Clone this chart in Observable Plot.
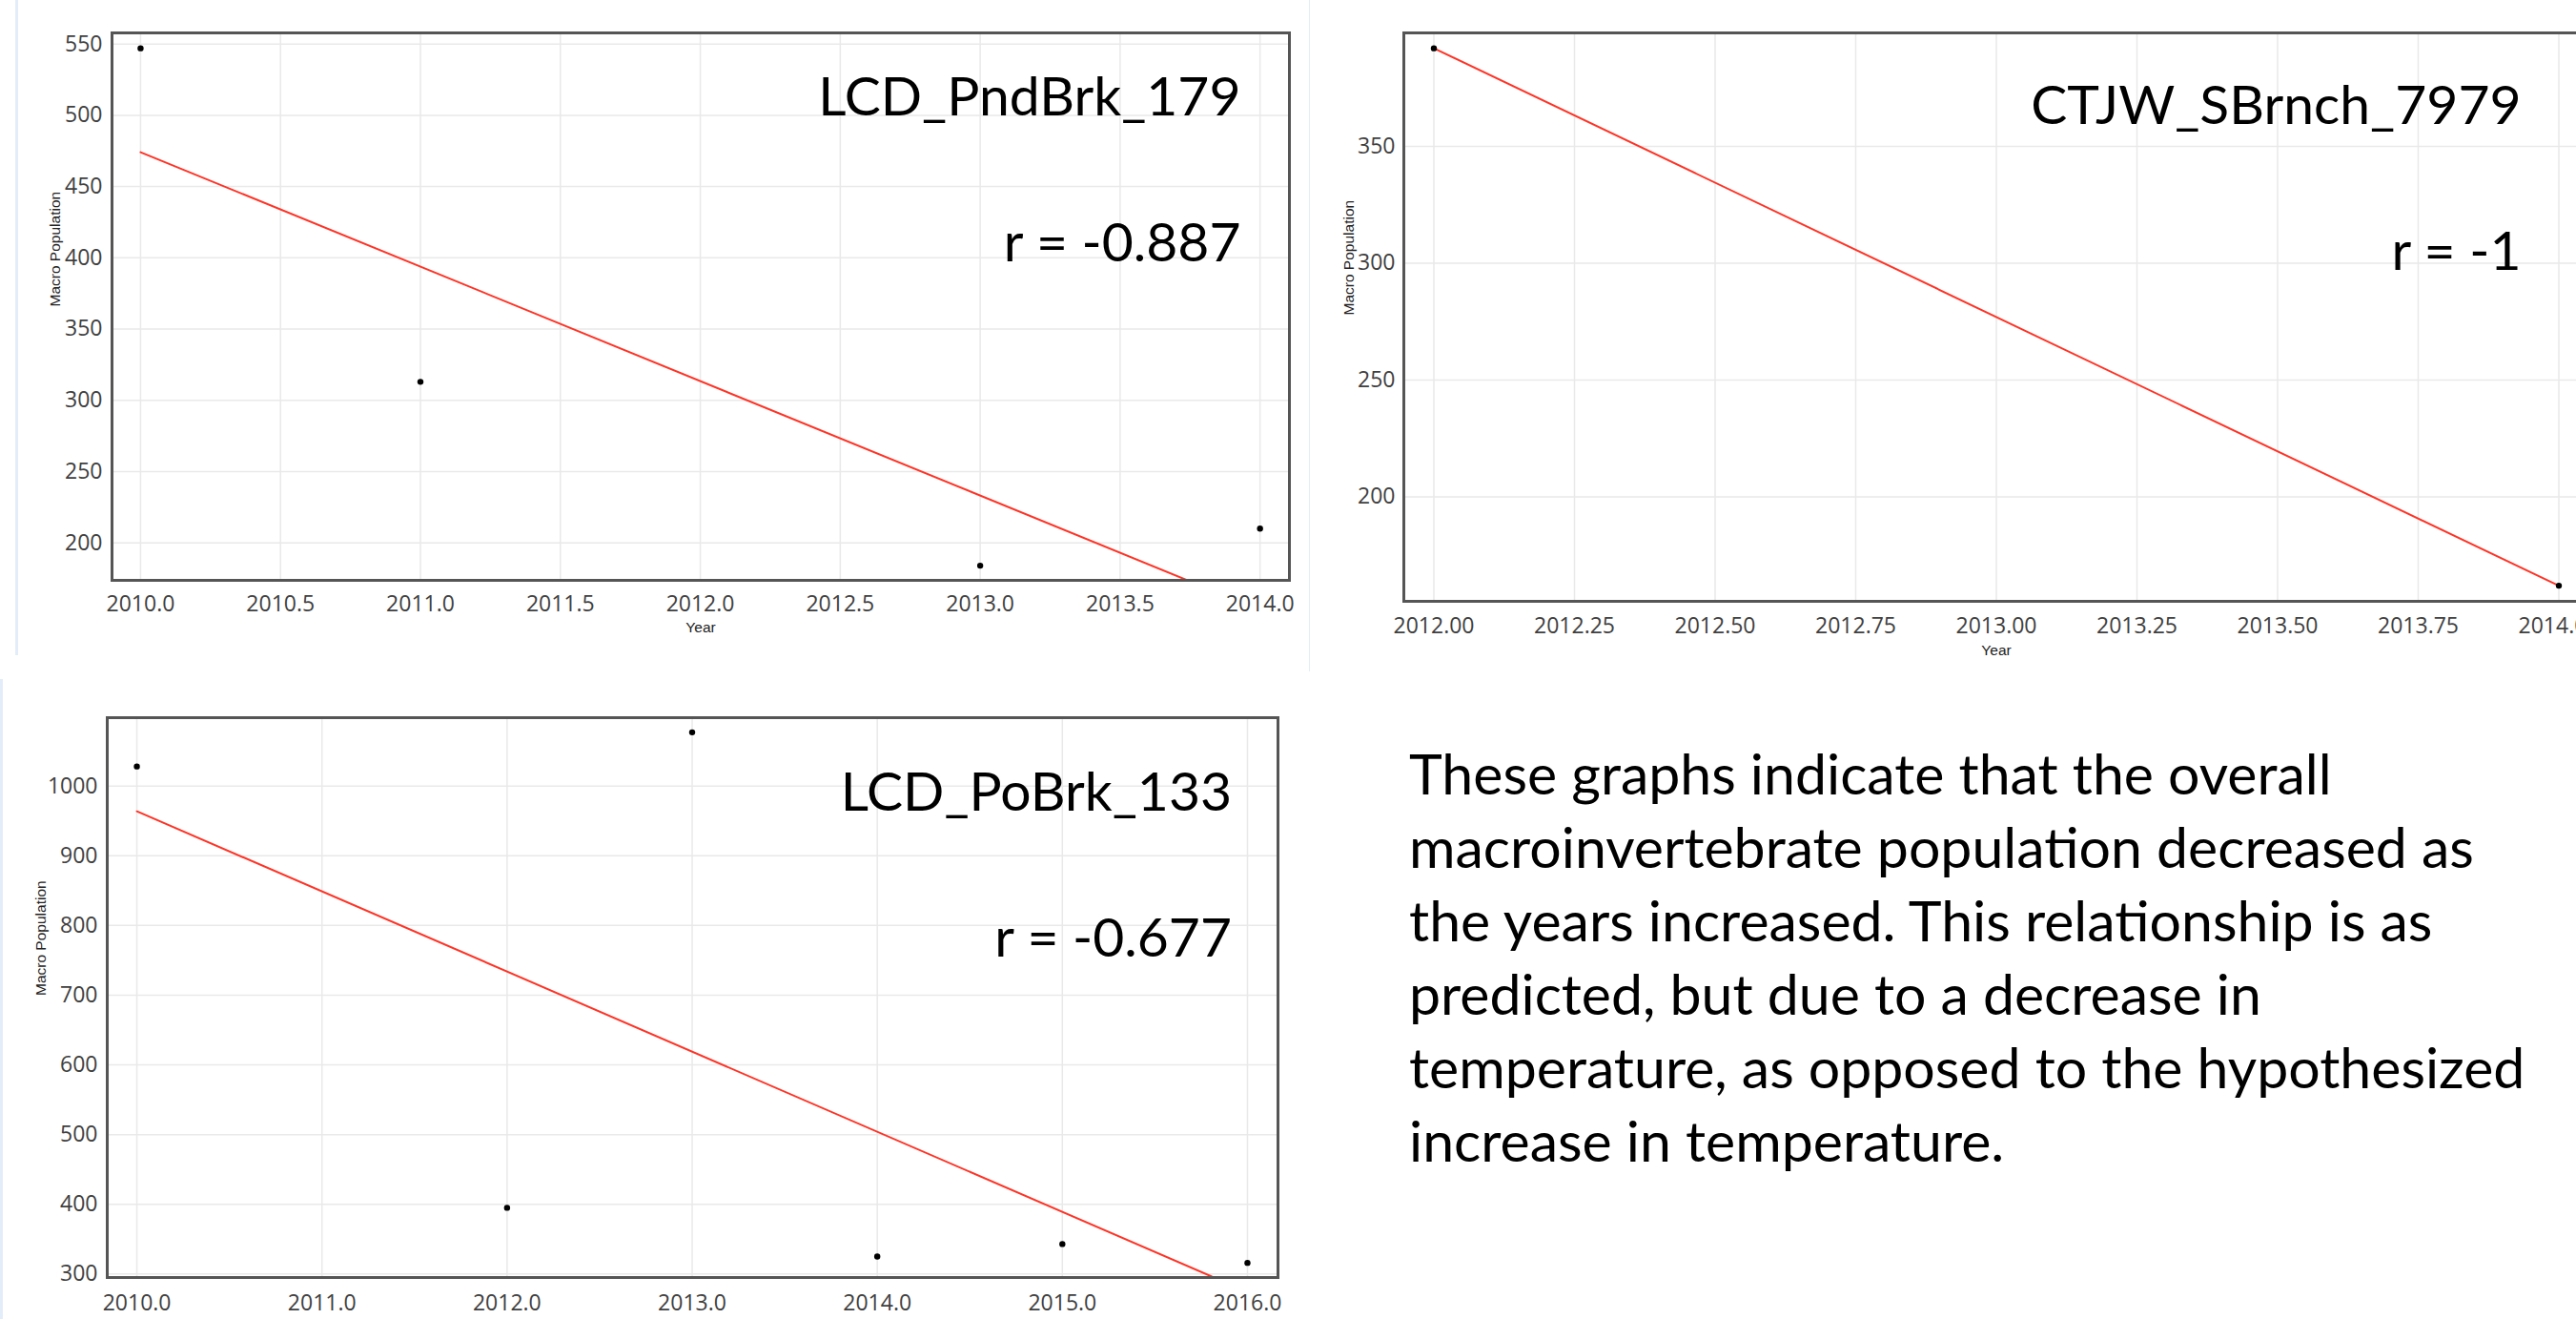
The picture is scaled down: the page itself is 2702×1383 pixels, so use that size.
<!DOCTYPE html>
<html><head><meta charset="utf-8">
<script src="https://cdn.jsdelivr.net/npm/d3@7"></script>
<script src="https://cdn.jsdelivr.net/npm/@observablehq/plot@0.6"></script>
<style>
html,body{margin:0;padding:0;background:#fff;overflow:hidden;}
#page{position:relative;width:2702px;height:1383px;overflow:hidden;background:#fff;}
.panel{position:absolute;}
.edge{position:absolute;background:#e3edf9;}
#note{position:absolute;left:1478px;top:772px;font-family:Lato,sans-serif;font-size:59px;line-height:77px;color:#000;white-space:nowrap;}
</style></head><body>
<div id="page">
  <div class="edge" style="left:16px;top:0;width:3px;height:687px"></div>
  <div class="edge" style="left:1373px;top:0;width:1px;height:704px"></div>
  <div class="edge" style="left:0;top:712px;width:3px;height:671px"></div>
  <div id="p1" class="panel" style="left:0;top:0"></div>
  <div id="p2" class="panel" style="left:1374px;top:0"></div>
  <div id="p3" class="panel" style="left:0;top:700px"></div>
  <div id="note"></div>
</div>
<script>
// ---- data ----
const p1Years = [2010, 2011, 2013, 2014];
const p1Pop = [547, 313, 184, 210];
const p1XTicks = [2010, 2010.5, 2011, 2011.5, 2012, 2012.5, 2013, 2013.5, 2014];
const p1YTicks = [200, 250, 300, 350, 400, 450, 500, 550];
const p1Title = "LCD_PndBrk_179";
const p1R = "r = -0.887";

const p2Years = [2012, 2014];
const p2Pop = [392, 162];
const p2XTicks = [2012, 2012.25, 2012.5, 2012.75, 2013, 2013.25, 2013.5, 2013.75, 2014];
const p2YTicks = [200, 250, 300, 350];
const p2Title = "CTJW_SBrnch_7979";
const p2R = "r = -1";

const p3Years = [2010, 2012, 2013, 2014, 2015, 2016];
const p3Pop = [1028, 395, 1077, 325, 343, 316];
const p3XTicks = [2010, 2011, 2012, 2013, 2014, 2015, 2016];
const p3YTicks = [300, 400, 500, 600, 700, 800, 900, 1000];
const p3Title = "LCD_PoBrk_133";
const p3R = "r = -0.677";

const xLabel = "Year";
const yLabel = "Macro Population";

const noteLines = [
  "These graphs indicate that the overall",
  "macroinvertebrate population decreased as",
  "the years increased. This relationship is as",
  "predicted, but due to a decrease in",
  "temperature, as opposed to the hypothesized",
  "increase in temperature."
];

// ---- drawing ----
function panel(c) {
  const data = c.years.map((x, i) => ({x, y: c.pop[i]}));
  const marks = [
    Plot.gridX({ticks: c.xTicks, stroke: "#e9e9e9", strokeOpacity: 1, strokeWidth: 1.5}),
    Plot.gridY({ticks: c.yTicks, stroke: "#e9e9e9", strokeOpacity: 1, strokeWidth: 1.5}),
    Plot.axisX({ticks: c.xTicks, tickSize: 0, tickPadding: c.xPad, tickFormat: c.xFmt, fontSize: 23, fill: "#404040"}),
    Plot.axisY({ticks: c.yTicks, tickSize: 0, tickPadding: c.yPad, tickFormat: d => String(d), fontSize: 23, fill: "#404040"}),
    Plot.linearRegressionY(data, {x: "x", y: "y", ci: 0, stroke: "#ff3326", strokeWidth: 2, clip: true}),
    Plot.dot(data, {x: "x", y: "y", r: 3.2, fill: "black", stroke: "none"}),
    Plot.frame({stroke: "#555", strokeWidth: 3}),
    Plot.text([c.title], {text: d => d, frameAnchor: "top-right", textAnchor: "end", lineAnchor: "bottom",
      dx: c.tDx, dy: c.tDy, fontSize: 57, fontFamily: "Lato", fill: "black"}),
    Plot.text([c.rText], {text: d => d, frameAnchor: "top-right", textAnchor: "end", lineAnchor: "bottom",
      dx: c.tDx, dy: c.rDy, fontSize: 57, fontFamily: "Lato", fill: "black"}),
    Plot.text([yLabel], {text: d => d, frameAnchor: "left", rotate: -90, dx: c.yLabDx, dy: c.yLabDy,
      fontSize: 15.5, fontFamily: "Liberation Sans", fill: "#222"})
  ];
  if (c.yearDy != null) {
    marks.push(Plot.text([xLabel], {text: d => d, frameAnchor: "bottom", lineAnchor: "bottom", dy: c.yearDy,
      fontSize: 15.5, fontFamily: "Liberation Sans", fill: "#222"}));
  }
  return Plot.plot({
    width: c.width, height: c.height,
    marginLeft: c.mL, marginTop: c.mT, marginRight: c.mR, marginBottom: c.mB,
    style: {fontFamily: "'Open Sans', sans-serif", fontSize: "23px", color: "#404040",
      background: "transparent", maxWidth: "none", overflow: "visible"},
    x: {domain: c.xDomain, label: null},
    y: {domain: c.yDomain, label: null},
    marks
  });
}

document.getElementById("p1").appendChild(panel({
  years: p1Years, pop: p1Pop, xTicks: p1XTicks, yTicks: p1YTicks, xFmt: d => d.toFixed(1),
  xDomain: [2009.898, 2014.105], yDomain: [173.7, 557.8],
  width: 1372, height: 700, mL: 117, mT: 34, mR: 20, mB: 92,
  xPad: 16, yPad: 10, title: p1Title, rText: p1R, tDx: -51, tDy: 86.5, rDy: 239,
  yLabDx: -59, yLabDy: 0, yearDy: 54
}));

document.getElementById("p2").appendChild(panel({
  years: p2Years, pop: p2Pop, xTicks: p2XTicks, yTicks: p2YTicks, xFmt: d => d.toFixed(2),
  xDomain: [2011.9466, 2014.0534], yDomain: [155.3, 398.6],
  width: 1361, height: 700, mL: 98, mT: 34, mR: 20, mB: 70,
  xPad: 17, yPad: 9, title: p2Title, rText: p2R, tDx: -71, tDy: 95, rDy: 248,
  yLabDx: -57, yLabDy: -2, yearDy: 56
}));

document.getElementById("p3").appendChild(panel({
  years: p3Years, pop: p3Pop, xTicks: p3XTicks, yTicks: p3YTicks, xFmt: d => d.toFixed(1),
  xDomain: [2009.84, 2016.165], yDomain: [295, 1098],
  width: 1372, height: 683, mL: 112, mT: 52, mR: 32, mB: 44,
  xPad: 18, yPad: 10, title: p3Title, rText: p3R, tDx: -48.5, tDy: 97, rDy: 250.4,
  yLabDx: -69, yLabDy: -2, yearDy: null
}));

document.getElementById("note").innerHTML = noteLines.join("<br>");
</script>
</body></html>
